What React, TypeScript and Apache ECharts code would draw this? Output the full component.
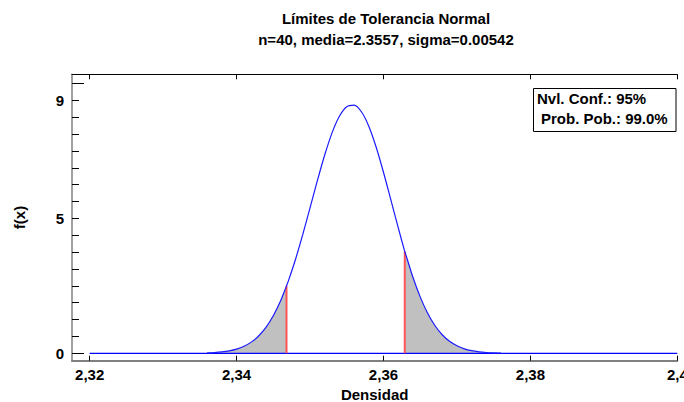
import React, { useEffect, useRef } from "react";
import * as echarts from "echarts";

// Axis ranges and tick positions
const xMin = 2.3176;
const xMax = 2.4;
const xTicks = [2.32, 2.34, 2.36, 2.38, 2.4];
const yMin = -0.263;
const yMax = 9.93;
const yTickValues = [0, 0.6, 1.2, 1.8, 2.4, 3.0, 3.6, 4.2, 4.8, 5.4, 6.0, 6.6, 7.2, 7.8, 8.4, 9.0, 9.6];
const yLabelValues = [0, 4.8, 9.0];
const yLongTicks = [0, 9.6];

// Fitted density curve f(x)
const densityX = [
  2.336, 2.337, 2.338, 2.339, 2.34, 2.341, 2.342, 2.343, 2.344, 2.345, 2.346,
  2.347, 2.348, 2.349, 2.35, 2.351, 2.352, 2.353, 2.354, 2.355, 2.356,
  2.357, 2.358, 2.359, 2.36, 2.361, 2.362, 2.363, 2.364, 2.365, 2.366,
  2.367, 2.368, 2.369, 2.37, 2.371, 2.372, 2.373, 2.374, 2.375, 2.376,
];
const densityY = [
  0.015, 0.027, 0.05, 0.088, 0.15, 0.249, 0.398, 0.615, 0.921, 1.335, 1.869,
  2.533, 3.322, 4.214, 5.173, 6.143, 7.058, 7.846, 8.437, 8.778, 8.836,
  8.597, 8.083, 7.343, 6.445, 5.467, 4.481, 3.549, 2.716, 2.008, 1.435,
  0.991, 0.661, 0.426, 0.266, 0.16, 0.093, 0.052, 0.028, 0.015, 0.008,
];

// Tolerance limits and the curve height at each
const lowerLimit = 2.3468;
const lowerLimitHeight = 2.4;
const upperLimit = 2.3629;
const upperLimitHeight = 3.62;

// Baseline of the density plot
const baselineX = [2.32, 2.4];

// Info box and titles
const infoLines = ["Nvl. Conf.: 95%", "Prob. Pob.: 99.0%"];
const titleLines = ["Límites de Tolerancia Normal", "n=40, media=2.3557, sigma=0.00542"];

const FONT = '"Liberation Sans", Arial, sans-serif';
const textBase = { fontFamily: FONT, fontSize: 15, fontWeight: "bold" as const, color: "#000" };

export default function App() {
  const ref = useRef<HTMLDivElement>(null);

  useEffect(() => {
    if (!ref.current) return;
    const chart = echarts.init(ref.current, null, { renderer: "svg" });

    const curve: number[][] = densityX
      .map((x, i) => [x, densityY[i]])
      .concat([
        [lowerLimit, lowerLimitHeight],
        [upperLimit, upperLimitHeight],
      ])
      .sort((a, b) => a[0] - b[0]);
    const lowerTail = curve.filter((p) => p[0] <= lowerLimit);
    const upperTail = curve.filter((p) => p[0] >= upperLimit);

    const lineBase = {
      type: "line",
      xAxisIndex: 0,
      yAxisIndex: 0,
      symbol: "none",
      silent: true,
    };

    chart.setOption({
      animation: false,
      backgroundColor: "#fff",
      grid: {
        left: 72,
        right: 6.7,
        top: 74.3,
        bottom: 41.3,
        containLabel: false,
        outerBoundsMode: "none",
      },
      xAxis: [
        {
          type: "value",
          position: "bottom",
          min: xMin,
          max: xMax,
          axisLine: { show: true, onZero: false, lineStyle: { color: "#808080", width: 2 } },
          axisTick: { show: true, inside: true, length: 5, customValues: xTicks, lineStyle: { color: "#000", width: 1 } },
          axisLabel: {
            customValues: xTicks,
            formatter: (v: number) => String(v).replace(".", ","),
            margin: 6,
            hideOverlap: false,
            ...textBase,
          },
          splitLine: { show: false },
          name: "Densidad",
          nameLocation: "middle",
          nameGap: 25,
          nameTextStyle: textBase,
        },
        {
          type: "value",
          position: "top",
          min: xMin,
          max: xMax,
          axisLine: { show: true, onZero: false, lineStyle: { color: "#000", width: 1 } },
          axisTick: { show: true, inside: true, length: 5, customValues: xTicks, lineStyle: { color: "#000", width: 1 } },
          axisLabel: { show: false },
          splitLine: { show: false },
        },
      ],
      yAxis: [
        {
          type: "value",
          position: "left",
          min: yMin,
          max: yMax,
          axisLine: { show: true, onZero: false, lineStyle: { color: "#808080", width: 1.5 } },
          axisTick: { show: true, inside: true, length: 7, customValues: yTickValues, lineStyle: { color: "#000", width: 1 } },
          axisLabel: {
            customValues: yLabelValues,
            formatter: (v: number) => String(Math.round(v)),
            margin: 8,
            ...textBase,
          },
          splitLine: { show: false },
          name: "f(x)",
          nameLocation: "middle",
          nameGap: 45,
          nameTextStyle: textBase,
        },
        {
          type: "value",
          position: "left",
          min: yMin,
          max: yMax,
          axisLine: { show: false },
          axisTick: { show: true, inside: true, length: 12, customValues: yLongTicks, lineStyle: { color: "#000", width: 1 } },
          axisLabel: { show: false },
          splitLine: { show: false },
        },
      ],
      series: [
        {
          ...lineBase,
          name: "base",
          data: baselineX.map((x) => [x, 0]),
          lineStyle: { color: "#0000ff", width: 1.2 },
        },
        {
          ...lineBase,
          name: "lowerTail",
          data: lowerTail,
          smooth: 0.3,
          lineStyle: { width: 0 },
          areaStyle: { color: "#c0c0c0", opacity: 1, origin: "auto" },
        },
        {
          ...lineBase,
          name: "upperTail",
          data: upperTail,
          smooth: 0.3,
          lineStyle: { width: 0 },
          areaStyle: { color: "#c0c0c0", opacity: 1, origin: "auto" },
        },
        {
          ...lineBase,
          name: "lowerLimit",
          data: [
            [lowerLimit, 0],
            [lowerLimit, lowerLimitHeight],
          ],
          lineStyle: { color: "#ff5555", width: 2 },
        },
        {
          ...lineBase,
          name: "upperLimit",
          data: [
            [upperLimit, 0],
            [upperLimit, upperLimitHeight],
          ],
          lineStyle: { color: "#ff5555", width: 2 },
        },
        {
          ...lineBase,
          name: "density",
          data: curve,
          smooth: 0.3,
          lineStyle: { color: "#1a1aff", width: 1.2 },
        },
      ],
      graphic: [
        {
          type: "text",
          x: 386,
          y: 18,
          style: { text: titleLines[0], font: `bold 15px ${FONT}`, fill: "#000", align: "center", verticalAlign: "middle" },
        },
        {
          type: "text",
          x: 386,
          y: 39,
          style: { text: titleLines[1], font: `bold 15px ${FONT}`, fill: "#000", align: "center", verticalAlign: "middle" },
        },
        {
          type: "rect",
          shape: { x: 533.5, y: 88.5, width: 142.5, height: 43 },
          style: { fill: "#fff", stroke: "#000", lineWidth: 1 },
          z: 10,
        },
        {
          type: "text",
          x: 537,
          y: 98.5,
          z: 11,
          style: { text: infoLines[0], font: `bold 15px ${FONT}`, fill: "#000", align: "left", verticalAlign: "middle" },
        },
        {
          type: "text",
          x: 541,
          y: 118.5,
          z: 11,
          style: { text: infoLines[1], font: `bold 15px ${FONT}`, fill: "#000", align: "left", verticalAlign: "middle" },
        },
      ],
    });

    return () => chart.dispose();
  }, []);

  return (
    <div
      ref={ref}
      style={{ position: "fixed", left: 0, top: 0, width: 684, height: 402, background: "#fff" }}
    />
  );
}
